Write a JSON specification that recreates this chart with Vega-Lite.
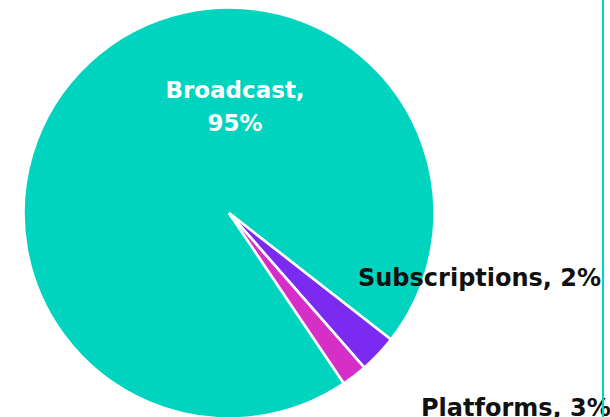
{
  "$schema": "https://vega.github.io/schema/vega-lite/v6.json",
  "width": 458,
  "height": 426,
  "autosize": "none",
  "padding": {"left": 0, "top": 0, "right": 152, "bottom": -9},
  "background": "white",
  "config": {"view": {"stroke": null}},
  "data": {
    "values": [
      {"category": "Broadcast", "value": 95},
      {"category": "Platforms", "value": 3},
      {"category": "Subscriptions", "value": 2}
    ]
  },
  "layer": [
    {
      "mark": {"type": "arc", "outerRadius": 205.5, "stroke": "white", "strokeWidth": 2.6},
      "encoding": {
        "theta": {"field": "value", "type": "quantitative", "stack": true, "scale": {"range": [2.5482, 8.8314]}},
        "color": {
          "field": "category",
          "type": "nominal",
          "scale": {"domain": ["Broadcast", "Platforms", "Subscriptions"], "range": ["#00D4BE", "#7A2BEF", "#D52FC8"]},
          "legend": null
        }
      }
    },
    {
      "transform": [
        {"filter": "datum.category === 'Broadcast'"},
        {"calculate": "[datum.category + ',', datum.value + '%']", "as": "label"}
      ],
      "mark": {"type": "text", "font": "DejaVu Sans", "fontWeight": "bold", "fontSize": 23, "lineHeight": 33, "color": "white", "align": "center", "baseline": "alphabetic", "dx": 6, "dy": -115},
      "encoding": {"text": {"field": "label"}}
    },
    {
      "transform": [
        {"filter": "datum.category === 'Subscriptions'"},
        {"calculate": "datum.category + ', ' + datum.value + '%'", "as": "label"}
      ],
      "mark": {"type": "text", "font": "DejaVu Sans", "fontWeight": "bold", "fontSize": 24, "color": "#111111", "align": "left", "baseline": "alphabetic", "dx": 129, "dy": 73},
      "encoding": {"text": {"field": "label"}}
    },
    {
      "transform": [
        {"filter": "datum.category === 'Platforms'"},
        {"calculate": "datum.category + ', ' + datum.value + '%'", "as": "label"}
      ],
      "mark": {"type": "text", "font": "DejaVu Sans", "fontWeight": "bold", "fontSize": 24, "color": "#111111", "align": "left", "baseline": "alphabetic", "dx": 192, "dy": 203},
      "encoding": {"text": {"field": "label"}}
    },
    {
      "mark": {"type": "rule", "color": "#00D4BE", "strokeWidth": 2},
      "encoding": {"x": {"value": 603}}
    }
  ]
}
